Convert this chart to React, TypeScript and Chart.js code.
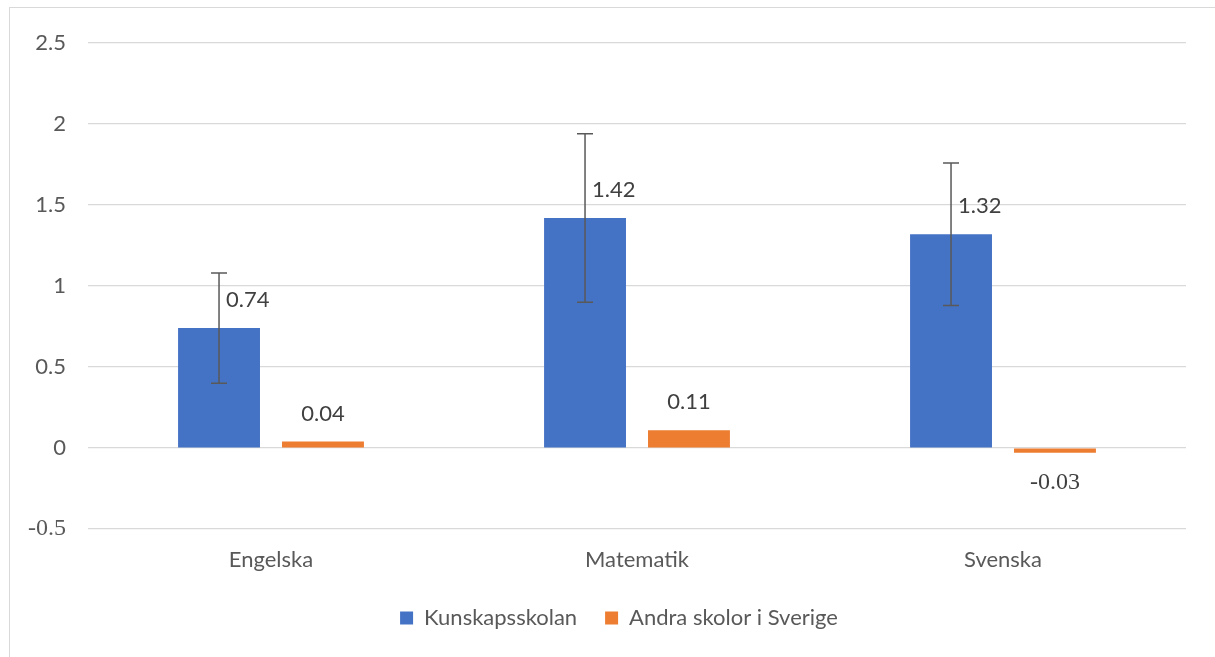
import React, { useEffect, useRef } from 'react';
import { Chart, registerables } from 'chart.js';

Chart.register(...registerables);

const categories = ['Engelska', 'Matematik', 'Svenska'];
const seriesNames = ['Kunskapsskolan', 'Andra skolor i Sverige'];
const kunskapsskolan = [0.74, 1.42, 1.32];
const andraSkolor = [0.04, 0.11, -0.03];
const kunskapsErrors = [0.34, 0.52, 0.44];
const yMin = -0.5;
const yMax = 2.5;
const yStep = 0.5;

const SANS = 'Lato, "Open Sans", sans-serif';
const SERIF = '"Liberation Serif", "Times New Roman", "DejaVu Serif", serif';
const FONT_SIZE = 22;

const errorBarPlugin = {
  id: 'errorBars',
  afterDatasetsDraw(chart: any) {
    const ctx = chart.ctx;
    const yScale = chart.scales.y;
    const meta = chart.getDatasetMeta(0);
    ctx.save();
    ctx.strokeStyle = '#595959';
    ctx.lineWidth = 1.5;
    meta.data.forEach((bar: any, i: number) => {
      const v = kunskapsskolan[i];
      const e = kunskapsErrors[i];
      const x = bar.x;
      const yTop = yScale.getPixelForValue(v + e);
      const yBot = yScale.getPixelForValue(v - e);
      const cap = 8;
      ctx.beginPath();
      ctx.moveTo(x, yTop);
      ctx.lineTo(x, yBot);
      ctx.moveTo(x - cap, yTop);
      ctx.lineTo(x + cap, yTop);
      ctx.moveTo(x - cap, yBot);
      ctx.lineTo(x + cap, yBot);
      ctx.stroke();
    });
    ctx.restore();
  },
};

const valueLabelPlugin = {
  id: 'valueLabels',
  afterDatasetsDraw(chart: any) {
    const ctx = chart.ctx;
    ctx.save();
    ctx.fillStyle = '#404040';
    ctx.textBaseline = 'middle';
    chart.data.datasets.forEach((ds: any, di: number) => {
      const meta = chart.getDatasetMeta(di);
      meta.data.forEach((bar: any, i: number) => {
        const v = ds.data[i];
        const text = String(v);
        if (di === 0) {
          ctx.font = `${FONT_SIZE}px ${SANS}`;
          ctx.textAlign = 'left';
          ctx.fillText(text, bar.x + 7, bar.y - 28);
        } else if (v >= 0) {
          ctx.font = `${FONT_SIZE}px ${SANS}`;
          ctx.textAlign = 'center';
          ctx.fillText(text, bar.x, bar.y - 28);
        } else {
          ctx.font = `24px ${SERIF}`;
          ctx.textAlign = 'center';
          ctx.fillText(text, bar.x, bar.y + 30);
        }
      });
    });
    ctx.restore();
  },
};

const legendShiftPlugin = {
  id: 'legendShift',
  afterLayout(chart: any) {
    const lg = chart.legend;
    if (lg) {
      lg.left += 26;
      lg.right += 26;
    }
  },
};

export default function App() {
  const canvasRef = useRef<HTMLCanvasElement | null>(null);

  useEffect(() => {
    if (!canvasRef.current) return;
    const chart = new Chart(canvasRef.current, {
      type: 'bar',
      data: {
        labels: categories,
        datasets: [
          {
            label: seriesNames[0],
            data: kunskapsskolan,
            backgroundColor: '#4472C4',
            categoryPercentage: 0.568,
            barPercentage: 0.788,
          },
          {
            label: seriesNames[1],
            data: andraSkolor,
            backgroundColor: '#ED7D31',
            categoryPercentage: 0.568,
            barPercentage: 0.788,
          },
        ],
      },
      options: {
        responsive: false,
        animation: false,
        layout: { padding: { left: 0, right: 29, top: 43, bottom: 18 } },
        plugins: {
          legend: {
            position: 'bottom',
            labels: {
              font: { family: SANS, size: FONT_SIZE },
              color: '#595959',
              boxWidth: 13,
              boxHeight: 13,
              padding: 28,
            },
          },
          tooltip: { enabled: false },
        },
        scales: {
          x: {
            grid: { display: false, drawTicks: false },
            border: { display: false },
            ticks: {
              font: { family: SANS, size: FONT_SIZE },
              color: '#595959',
              padding: 18,
            },
            afterFit(scale: any) {
              scale.height = 50;
            },
          },
          y: {
            min: yMin,
            max: yMax,
            grid: { color: '#d9d9d9', lineWidth: 1.2, drawTicks: false },
            border: { display: false },
            ticks: {
              stepSize: yStep,
              color: '#595959',
              padding: 22,
              font: (c: any) =>
                c.tick && c.tick.value < 0
                  ? { family: SERIF, size: 24 }
                  : { family: SANS, size: FONT_SIZE },
              callback: (v: any) => String(v),
            },
            afterFit(scale: any) {
              scale.width = 88;
            },
          },
        },
      },
      plugins: [legendShiftPlugin, errorBarPlugin, valueLabelPlugin],
    });
    return () => {
      chart.destroy();
    };
  }, []);

  return (
    <div style={{ position: 'fixed', left: 0, top: 0, width: 1215, height: 657, background: '#fff', overflow: 'hidden' }}>
      <div
        style={{
          position: 'absolute',
          left: 9,
          top: 7,
          width: 1206,
          height: 650,
          borderTop: '1px solid #d9d9d9',
          borderLeft: '1px solid #d9d9d9',
          boxSizing: 'border-box',
        }}
      />
      <canvas ref={canvasRef} width={1215} height={657} style={{ position: 'absolute', left: 0, top: 0, display: 'block' }} />
    </div>
  );
}
